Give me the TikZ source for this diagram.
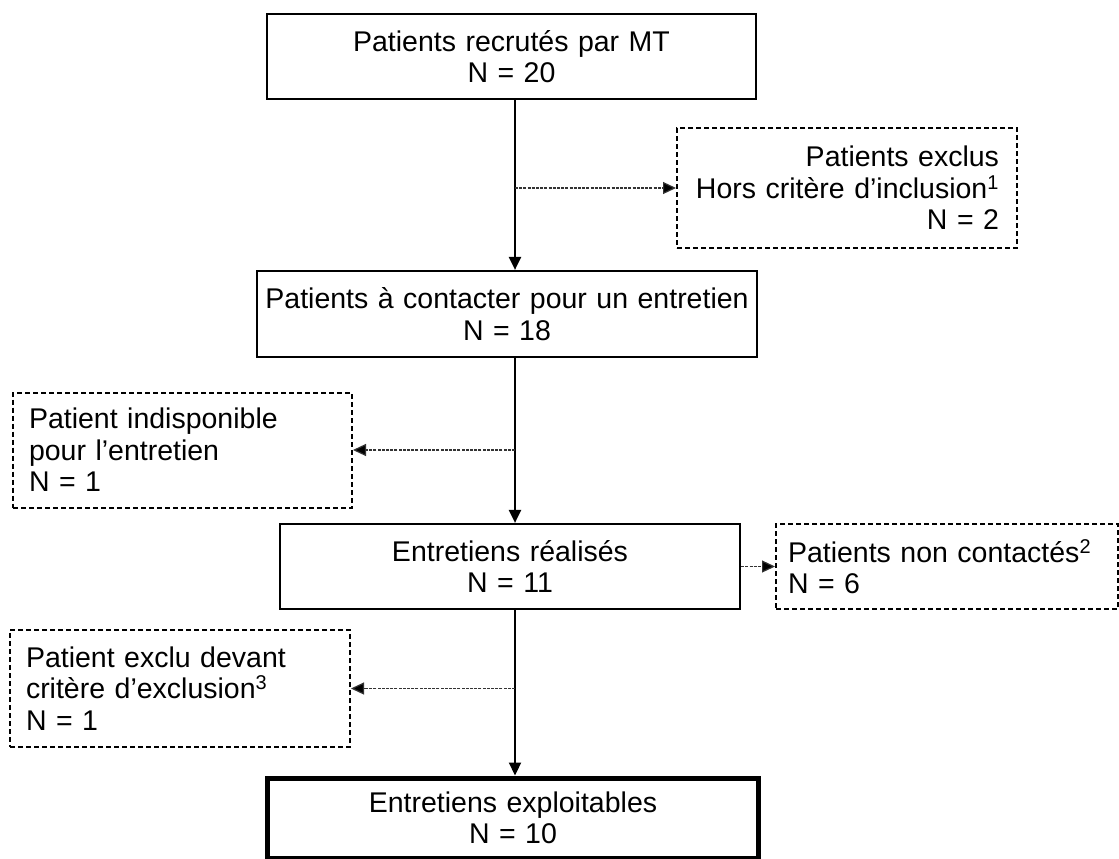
\documentclass[tikz,border=0pt]{standalone}
\usepackage{fontspec}
\setmainfont{Liberation Sans}
\usetikzlibrary{arrows.meta}
\begin{document}
\begin{tikzpicture}[x=1pt,y=-1pt,
  every node/.style={font=\fontsize{28.5}{31.5}\selectfont},
  solidbox/.style={draw=black,line width=2.2pt,inner xsep=4pt,inner ysep=0pt,align=center},
  finalbox/.style={draw=black,line width=5pt,inner xsep=4pt,inner ysep=0pt,align=center},
  dashbox/.style={draw=black,line width=2pt,dash pattern=on 5pt off 3pt,inner ysep=0pt},
  mainarrow/.style={line width=2.2pt,-{Triangle[length=13pt,width=12pt]}},
  sidearrow/.style={line width=1.2pt,dash pattern=on 3pt off 1.2pt,black!80,-{Triangle[length=13pt,width=12pt,fill=black]}}
]
\useasboundingbox[fill=white] (0,0) rectangle (1119,859);
\coordinate (mx) at (515,0);

\node[solidbox,text width=481pt,minimum height=85pt] (b1) at (511.5,56.5)
  {Patients recrutés par MT\\N = 20};
\node[dashbox,inner xsep=18pt,text width=304pt,minimum height=120pt,align=right] (d1) at (847,188)
  {Patients exclus\\Hors critère d’inclusion\textsuperscript{1}\\N = 2};
\node[solidbox,text width=492pt,minimum height=86pt] (b2) at (507,314)
  {Patients à contacter pour un entretien\\N = 18};
\node[dashbox,inner xsep=16pt,text width=307pt,minimum height=115pt,align=left] (d2) at (182.5,450)
  {Patient indisponible\\pour l’entretien\\N = 1};
\node[solidbox,text width=452pt,minimum height=85pt] (b3) at (510,566.5)
  {Entretiens réalisés\\N = 11};
\node[dashbox,inner xsep=12pt,text width=318pt,minimum height=85pt,align=left] (d3) at (947,566.5)
  {Patients non contactés\textsuperscript{2}\\N = 6};
\node[dashbox,inner xsep=16pt,text width=308pt,minimum height=117pt,align=left] (d4) at (180,688.5)
  {Patient exclu devant\\critère d’exclusion\textsuperscript{3}\\N = 1};
\node[finalbox,text width=483pt,minimum height=80pt] (b5) at (513,818)
  {Entretiens exploitables\\N = 10};

\draw[mainarrow] (b1.south -| mx) -- (b2.north -| mx);
\draw[mainarrow] (b2.south -| mx) -- (b3.north -| mx);
\draw[mainarrow] (b3.south -| mx) -- (b5.north -| mx);
\draw[sidearrow] (d1.west -| mx) -- (d1.west);
\draw[sidearrow] (d2.east -| mx) -- (d2.east);
\draw[sidearrow] (b3.east) -- (d3.west);
\draw[sidearrow] (d4.east -| mx) -- (d4.east);
\end{tikzpicture}
\end{document}
